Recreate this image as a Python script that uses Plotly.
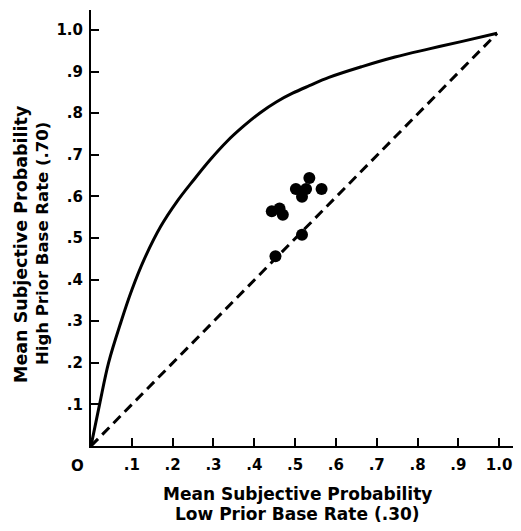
import plotly.graph_objects as go

# Theoretical curve, values
curve_x = [0.0, 0.021, 0.043, 0.074, 0.100, 0.130, 0.171, 0.211, 0.252, 0.292, 0.333, 0.373,
           0.413, 0.454, 0.494, 0.535, 0.583, 0.664, 0.745, 0.826, 0.907, 0.995]
curve_y = [0.0, 0.100, 0.200, 0.300, 0.375, 0.448, 0.528, 0.588, 0.640, 0.688, 0.732, 0.768,
           0.800, 0.827, 0.848, 0.866, 0.886, 0.912, 0.935, 0.954, 0.972, 0.992]

# Identity line
diag_x = [0.0, 0.995]
diag_y = [0.0, 0.992]

# Observed means
pts_x = [0.443, 0.462, 0.470, 0.502, 0.517, 0.527, 0.535, 0.565, 0.517, 0.452]
pts_y = [0.564, 0.571, 0.556, 0.618, 0.599, 0.618, 0.644, 0.618, 0.508, 0.456]

tick_vals = [0.1, 0.2, 0.3, 0.4, 0.5, 0.6, 0.7, 0.8, 0.9, 1.0]
tick_text = [".1", ".2", ".3", ".4", ".5", ".6", ".7", ".8", ".9", "1.0"]

x_title = ["Mean Subjective Probability", "Low Prior Base Rate (.30)"]
y_title = ["Mean Subjective Probability", "High Prior Base Rate (.70)"]

FONT = "DejaVu Sans"

fig = go.Figure()
fig.add_trace(go.Scatter(x=curve_x, y=curve_y, mode="lines",
                         line=dict(color="black", width=3, shape="spline", smoothing=1.0),
                         hoverinfo="skip", showlegend=False))
fig.add_trace(go.Scatter(x=diag_x, y=diag_y, mode="lines",
                         line=dict(color="black", width=3, dash="10px,6px"),
                         hoverinfo="skip", showlegend=False))
fig.add_trace(go.Scatter(x=pts_x, y=pts_y, mode="markers",
                         marker=dict(color="black", size=12),
                         showlegend=False))

axis_common = dict(
    showgrid=False, zeroline=False, showline=True, linecolor="black", linewidth=2,
    ticks="inside", ticklen=8, tickwidth=2, tickcolor="black",
    tickvals=tick_vals, ticktext=tick_text, ticklabeloverflow="allow",
    tickfont=dict(family=FONT, size=15, color="black", weight="bold"),
)

# Page has an 8px body margin; figure sized so the page fits the window.
# Plot area in page px: x 91..513, y 10..446
fig.update_layout(
    width=505, height=515,
    margin=dict(l=83, r=0, t=2, b=77),
    paper_bgcolor="white", plot_bgcolor="white",
    xaxis=dict(range=[0, 1.034], ticklabelstandoff=4, **axis_common),
    yaxis=dict(range=[0, 1.048], ticklabelstandoff=3, **axis_common),
)

def px(xp, yp):
    return (xp - 91) / 422.0, (446 - yp) / 436.0

anns = []
ax0, ay0 = px(77, 466)
anns.append(dict(text="O", x=ax0, y=ay0, xref="paper", yref="paper", showarrow=False,
                 xanchor="center", yanchor="middle",
                 font=dict(family=FONT, size=15, color="black", weight="bold")))
for txt, yp in zip(x_title, [494, 514]):
    xx, yy = px(297, yp)
    anns.append(dict(text=txt, x=xx, y=yy, xref="paper", yref="paper",
                     showarrow=False, xanchor="center", yanchor="middle",
                     font=dict(family=FONT, size=17, color="black", weight="bold")))
for txt, xp, sz in zip(y_title, [21, 42], [17.5, 16.5]):
    xx, yy = px(xp, 244)
    anns.append(dict(text=txt, x=xx, y=yy, xref="paper", yref="paper",
                     showarrow=False, xanchor="center", yanchor="middle", textangle=-90,
                     font=dict(family=FONT, size=sz, color="black", weight="bold")))
fig.update_layout(annotations=anns)

fig.write_html("out.html")
